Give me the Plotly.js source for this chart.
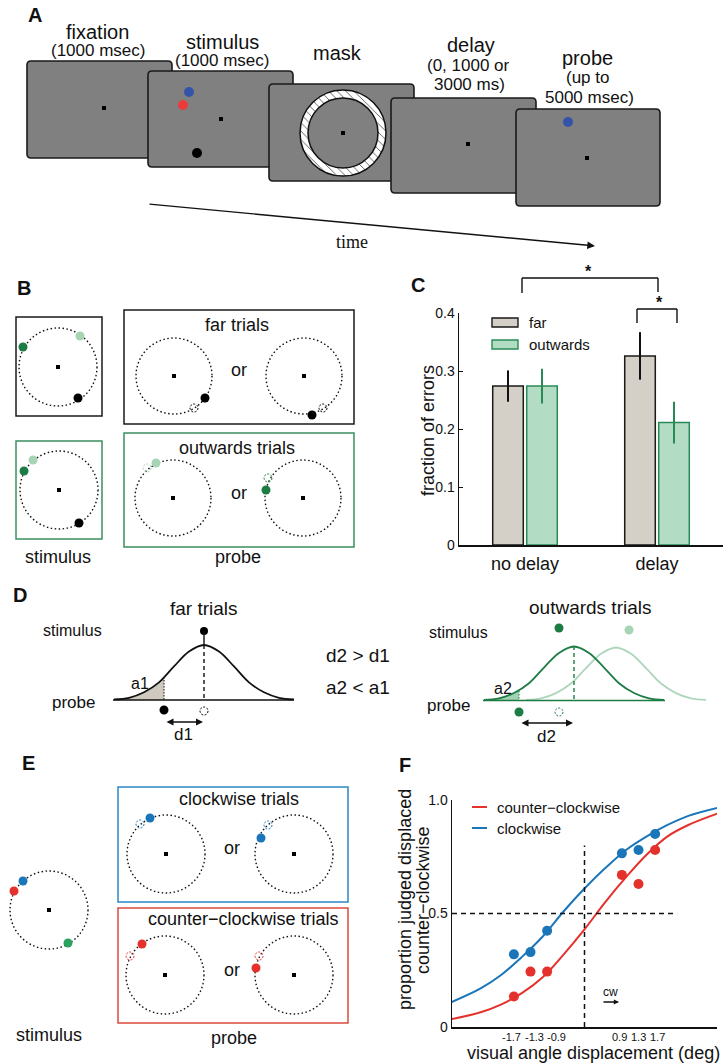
<!DOCTYPE html>
<html>
<head>
<meta charset="utf-8">
<script src="https://cdn.plot.ly/plotly-3.0.1.min.js"></script>
<style>html,body{margin:0;padding:0;background:#fff;}#chart{width:728px;height:1063px;}</style>
</head>
<body>
<div id="chart"></div>
<script>
// ---------- Panel C data ----------
const conditions = ['no delay', 'delay'];
const farFraction = [0.274, 0.326];
const farError = [0.027, 0.041];
const outwardsFraction = [0.274, 0.211];
const outwardsError = [0.030, 0.036];
const cTickVals = [0, 0.1, 0.2, 0.3, 0.4];
const cTickText = ['0', '0.1', '0.2', '0.3', '0.4'];

// ---------- Panel F data ----------
const displacement = [-1.7, -1.3, -0.9, 0.9, 1.3, 1.7];
const clockwisePts = [0.32, 0.33, 0.424, 0.765, 0.78, 0.85];
const counterPts = [0.134, 0.244, 0.244, 0.67, 0.63, 0.78];
const fitX = [-3.2, -2.5, -2, -1.5, -1, -0.5, 0, 0.5, 1, 1.5, 2, 2.5, 3.2];
const clockwiseFit = [0.11, 0.17, 0.23, 0.31, 0.40, 0.51, 0.61, 0.70, 0.78, 0.84, 0.89, 0.93, 0.965];
const counterFit = [0.035, 0.065, 0.10, 0.15, 0.22, 0.32, 0.43, 0.55, 0.66, 0.76, 0.84, 0.89, 0.94];
const fTickText = ['-1.7', '-1.3', '-0.9', '0.9', '1.3', '1.7'];
const fYTickVals = [0, 0.5, 1];
const fYTickText = ['0', '0.5', '1.0'];

// ---------- Panel D schematic tuning curve profile ----------
const bellOffsets = [-3, -2.5, -2, -1.5, -1, -0.5, 0, 0.5, 1, 1.5, 2, 2.5, 3];
const bellHeights = [0.01, 0.04, 0.14, 0.32, 0.61, 0.88, 1, 0.88, 0.61, 0.32, 0.14, 0.04, 0.01];

const FONT = 'Liberation Sans, Arial, Helvetica, sans-serif';
const INK = '#111';
const S = [], A = [], T = [];
const CV = {xref: 'x3', yref: 'y3'};

function circle(cx, cy, r, fill, lc, lw, dash, layer) {
  S.push(Object.assign({type: 'circle', x0: cx - r, x1: cx + r, y0: cy - r, y1: cy + r,
    fillcolor: fill || 'rgba(0,0,0,0)', layer: layer || 'above',
    line: {color: lc || fill || INK, width: lw == null ? 0 : lw, dash: dash || 'solid'}}, CV));
}
function dot(cx, cy, r, col) { circle(cx, cy, r, col, col, 0); }
function ghost(cx, cy, col) { circle(cx, cy, 4, null, col, 1, '2px,1.5px'); }
function sq(cx, cy) {
  S.push(Object.assign({type: 'rect', x0: cx - 2, x1: cx + 2, y0: cy - 2, y1: cy + 2, fillcolor: '#000', line: {width: 0}}, CV));
}
function box(x0, y0, x1, y1, col, w) {
  S.push(Object.assign({type: 'rect', x0, x1, y0, y1, fillcolor: 'rgba(0,0,0,0)', line: {color: col, width: w || 1.5}}, CV));
}
function seg(x0, y0, x1, y1, col, w, dash) {
  S.push(Object.assign({type: 'line', x0, x1, y0, y1, line: {color: col || INK, width: w || 1.5, dash: dash || 'solid'}}, CV));
}
function txt(x, y, s, size, o) {
  o = o || {};
  A.push(Object.assign({x, y, text: s, showarrow: false, font: {family: o.family || FONT, size, color: o.color || INK},
    xanchor: o.xa || 'center', yanchor: o.ya || 'middle', textangle: o.angle || 0}, CV));
}
function arrow(x0, y0, x1, y1, o) {
  o = o || {};
  A.push({xref: 'x3', yref: 'y3', axref: 'x3', ayref: 'y3', x: x1, y: y1, ax: x0, ay: y0, text: '', showarrow: true,
    arrowhead: o.head || 2, startarrowhead: o.head || 2, arrowsize: o.size || 1, startarrowsize: o.size || 1,
    arrowwidth: o.w || 1.5, arrowcolor: INK, arrowside: o.side || 'end', standoff: 0, startstandoff: 0});
}
function screen(x0, y0, x1, y1) {
  const r = 4;
  const p = `M${x0 + r},${y0} L${x1 - r},${y0} Q${x1},${y0} ${x1},${y0 + r} L${x1},${y1 - r} Q${x1},${y1} ${x1 - r},${y1} ` +
    `L${x0 + r},${y1} Q${x0},${y1} ${x0},${y1 - r} L${x0},${y0 + r} Q${x0},${y0} ${x0 + r},${y0} Z`;
  S.push(Object.assign({type: 'path', path: p, fillcolor: '#808080', line: {color: '#1a1a1a', width: 1.6}, layer: 'below'}, CV));
}
function dottedCircle(cx, cy, r) { circle(cx, cy, r, null, INK, 1.4, '1.5px,2.5px'); }

// ================= Panel A =================
txt(35, 15, '<b>A</b>', 20);
const BLUE_A = '#3553a8', RED_A = '#eb3b3b';
screen(27, 61, 172, 158); sq(104, 108);
screen(148, 71, 293, 167); dot(189, 92, 5, BLUE_A); dot(183, 105, 5, RED_A); dot(197, 153, 5, '#000'); sq(221, 119);
screen(269, 84, 414, 181);
// hatched mask ring (trace)
(function () {
  const cx = 343, cy = 133, R = 43, r = 35, N = 96, xs = [], ys = [];
  for (let i = 0; i <= N; i++) { const a = 2 * Math.PI * i / N; xs.push(cx + R * Math.cos(a)); ys.push(cy + R * Math.sin(a)); }
  for (let i = N; i >= 0; i--) { const a = 2 * Math.PI * i / N; xs.push(cx + r * Math.cos(a)); ys.push(cy + r * Math.sin(a)); }
  T.push({type: 'scatter', mode: 'lines', x: xs, y: ys, xaxis: 'x3', yaxis: 'y3', fill: 'toself', fillcolor: 'white',
    fillpattern: {shape: '\\', fgcolor: '#555', bgcolor: 'white', size: 6, solidity: 0.15},
    line: {width: 0, color: 'rgba(0,0,0,0)'}, hoverinfo: 'skip', showlegend: false});
  circle(cx, cy, R, null, '#111', 1.5);
  circle(cx, cy, r, null, '#111', 1.5);
})();
sq(343, 133);
screen(391, 98, 536, 193); sq(468, 144);
screen(516, 109, 660, 206); dot(568, 122, 5, BLUE_A); sq(587, 158);

txt(97, 32, 'fixation', 20); txt(98, 50, '(1000 msec)', 17);
txt(222, 42, 'stimulus', 20); txt(222, 60, '(1000 msec)', 17);
txt(337, 53, 'mask', 20);
txt(471, 45, 'delay', 20); txt(468, 65, '(0, 1000 or', 17); txt(469, 84, '3000 ms)', 17);
txt(587, 58, 'probe', 20); txt(587, 77, '(up to', 17); txt(589, 97, '5000 msec)', 17);
arrow(148, 204, 595, 246, {head: 2, size: 1.1, w: 1.4});
txt(352, 242, 'time', 18, {family: 'Liberation Serif, Times New Roman, serif'});

// ================= Panel B =================
txt(24, 288, '<b>B</b>', 20);
const DG = '#1c7c43', LG = '#a8d4b6', GBOX = '#3a8f5e';
box(16, 317, 102, 416, '#1a1a1a');
dottedCircle(58, 367, 39); sq(58, 367); dot(23, 347, 4.5, DG); dot(80, 336, 4.5, LG); dot(78, 398, 4.5, '#000');
box(124, 310, 354, 424, '#1a1a1a');
txt(237, 325, 'far trials', 18);
dottedCircle(174, 376, 38); sq(174, 376); ghost(194, 408, '#000'); dot(205, 398, 4.5, '#000');
txt(239, 370, 'or', 18);
dottedCircle(304, 376, 38); sq(304, 376); ghost(323, 408, '#000'); dot(312, 415, 4.5, '#000');
box(16, 441, 102, 539, GBOX);
dottedCircle(59, 490, 39); sq(59, 490); dot(24, 471, 4.5, DG); dot(33, 460, 4.5, LG); dot(79, 523, 4.5, '#000');
box(124, 433, 354, 547, GBOX);
txt(237, 448, 'outwards trials', 18);
dottedCircle(173, 498, 38); sq(173, 498); ghost(147, 468, LG); dot(156, 463, 4.5, LG);
txt(239, 493, 'or', 18);
dottedCircle(303, 498, 38); sq(303, 498); ghost(268, 478, DG); dot(266, 490, 4.5, DG);
txt(58, 557, 'stimulus', 18); txt(238, 557, 'probe', 18);

// ================= Panel C =================
txt(418, 285, '<b>C</b>', 20);
seg(522, 278, 658, 278, INK, 1.4); seg(522, 278, 522, 293, INK, 1.4); seg(658, 278, 658, 292, INK, 1.4);
txt(588, 271, '<b>*</b>', 16);
seg(637, 309, 677, 309, INK, 1.4); seg(637, 309, 637, 323, INK, 1.4); seg(677, 309, 677, 323, INK, 1.4);
txt(659, 302, '<b>*</b>', 16);
S.push(Object.assign({type: 'rect', x0: 492, x1: 518, y0: 318, y1: 327, fillcolor: '#d4cfc7', line: {color: '#1a1a1a', width: 1.4}}, CV));
S.push(Object.assign({type: 'rect', x0: 492, x1: 518, y0: 340, y1: 349, fillcolor: '#b2dcc3', line: {color: '#2a8a57', width: 1.4}}, CV));
txt(527, 322, 'far', 15, {xa: 'left'}); txt(527, 344, 'outwards', 15, {xa: 'left'});
txt(428, 431, 'fraction of errors', 18, {angle: -90});

T.push({type: 'bar', name: 'far', x: conditions, y: farFraction, xaxis: 'x', yaxis: 'y',
  marker: {color: '#d4cfc7', line: {color: '#1a1a1a', width: 1.5}},
  error_y: {type: 'data', array: farError, color: '#111', thickness: 2, width: 0}, showlegend: false, hoverinfo: 'skip'});
T.push({type: 'bar', name: 'outwards', x: conditions, y: outwardsFraction, xaxis: 'x', yaxis: 'y',
  marker: {color: '#b2dcc3', line: {color: '#2a8a57', width: 1.5}},
  error_y: {type: 'data', array: outwardsError, color: '#2a8a57', thickness: 2, width: 0}, showlegend: false, hoverinfo: 'skip'});

// ================= Panel D =================
txt(20, 595, '<b>D</b>', 20);
function bell(cx, base, H, sig, col, w) {
  T.push({type: 'scatter', mode: 'lines', xaxis: 'x3', yaxis: 'y3', x: bellOffsets.map(o => cx + o * sig),
    y: bellHeights.map(h => base - h * H), line: {color: col, width: w || 1.8, shape: 'spline'}, hoverinfo: 'skip', showlegend: false});
}
function shade(cx, base, H, sig, cutOff, cutH, col) {
  const idx = bellOffsets.filter(o => o < cutOff);
  const xs = idx.map(o => cx + o * sig).concat([cx + cutOff * sig]);
  const ys = idx.map(o => base - bellHeights[bellOffsets.indexOf(o)] * H).concat([base - cutH * H]);
  T.push({type: 'scatter', mode: 'lines', xaxis: 'x3', yaxis: 'y3', x: [xs[0], xs[xs.length - 1]], y: [base, base],
    line: {width: 0}, hoverinfo: 'skip', showlegend: false});
  T.push({type: 'scatter', mode: 'lines', xaxis: 'x3', yaxis: 'y3', x: xs, y: ys, fill: 'tonexty', fillcolor: col,
    line: {width: 0, shape: 'spline'}, hoverinfo: 'skip', showlegend: false});
}
// far trials
txt(204, 608, 'far trials', 19);
txt(72, 630, 'stimulus', 16);
shade(204, 700, 55, 30, -1.33, 0.42, '#cfc9bf');
bell(204, 700, 55, 30, '#111', 1.8);
seg(113, 700, 294, 700, '#111', 1.6);
dot(204, 631, 4, '#000'); seg(204, 631, 204, 645, '#111', 1.4);
seg(204, 645, 204, 700, '#111', 1.4, '4px,3px');
seg(164, 677, 164, 700, '#111', 1, '1.5px,1.5px');
dot(164, 710, 4.5, '#000'); ghost(204, 711, '#000');
arrow(165, 722, 203, 722, {side: 'end+start', head: 2, size: 1, w: 1.4});
txt(183, 734, 'd1', 17); txt(140, 683, 'a1', 16); txt(73, 702, 'probe', 17);
txt(358, 655, 'd2 > d1', 19); txt(358, 687, 'a2 < a1', 19);
// outwards trials
txt(590, 607, 'outwards trials', 19);
txt(458, 632, 'stimulus', 16);
dot(559, 628, 4.5, DG); dot(629, 630, 4.5, LG);
bell(616, 700.5, 53, 30, '#aed6bc', 1.8);
shade(574, 700.5, 54, 30, -1.83, 0.18, '#9fd3b2');
bell(574, 700.5, 54, 30, DG, 1.8);
seg(483, 700.5, 665, 700.5, DG, 1.6);
seg(574, 646, 574, 700, DG, 1.4, '4px,3px');
seg(519, 691, 519, 700, DG, 1, '1.5px,1.5px');
dot(519, 712, 4.5, DG); ghost(559, 712, DG);
arrow(520, 723, 573, 723, {side: 'end+start', head: 2, size: 1, w: 1.4});
txt(546, 736, 'd2', 17); txt(503, 688, 'a2', 16); txt(448, 705, 'probe', 17);

// ================= Panel E =================
txt(28, 763, '<b>E</b>', 20);
const BL = '#1b76b9', RD = '#e5312b', GN = '#2ca25f';
dottedCircle(49, 910, 39); sq(49, 910); dot(23, 881, 4.5, BL); dot(14, 891, 4.5, RD); dot(68, 943, 4.5, GN);
txt(49, 1035, 'stimulus', 18);
box(118, 787, 348, 902, '#2b87c5');
txt(239, 799, 'clockwise trials', 18);
dottedCircle(166, 854, 39); sq(166, 854); ghost(140, 824, BL); dot(150, 818, 4.5, BL);
txt(232, 848, 'or', 18);
dottedCircle(294, 854, 39); sq(294, 854); ghost(268, 825, BL); dot(261, 838, 4.5, BL);
box(118, 908, 348, 1023, '#da4a3e');
txt(243, 919, 'counter\u2212clockwise trials', 18);
dottedCircle(165, 975, 39); sq(165, 975); ghost(130, 956, RD); dot(142, 944, 4.5, RD);
txt(232, 970, 'or', 18);
dottedCircle(294, 975, 39); sq(294, 975); ghost(259, 956, RD); dot(256, 968, 4.5, RD);
txt(234, 1038, 'probe', 18);

// ================= Panel F =================
txt(405, 765, '<b>F</b>', 20);
txt(405, 900, 'proportion judged displaced', 18, {angle: -90});
txt(423, 900, 'counter\u2212clockwise', 18, {angle: -90});
txt(593, 1053, 'visual angle displacement (deg)', 18);
seg(472, 807, 487, 807, RD, 2); txt(495, 807, 'counter\u2212clockwise', 15, {xa: 'left'});
seg(472, 828, 487, 828, BL, 2); txt(495, 828, 'clockwise', 15, {xa: 'left'});
txt(610, 992, 'cw', 12);
arrow(602, 1002, 619, 1002, {head: 2, size: 0.8, w: 1.3});
// x tick labels of F, placed at the tick values (small nudges so the crowded labels do not collide)
const fTickNudge = [-2, 3.5, 9, -2, 0, 2];
displacement.forEach((v, i) => {
  A.push({xref: 'x2', yref: 'y3', x: v, y: 1037, xshift: fTickNudge[i], text: fTickText[i], showarrow: false,
    font: {family: FONT, size: 11, color: INK}, xanchor: 'center', yanchor: 'middle', borderpad: 0});
});

S.push({type: 'line', xref: 'x2', yref: 'y2', x0: 0, x1: 0, y0: 0, y1: 0.8, line: {color: '#111', width: 1.5, dash: '5px,4px'}});
S.push({type: 'line', xref: 'x2', yref: 'y2', x0: -3.19, x1: 2.23, y0: 0.5, y1: 0.5, line: {color: '#111', width: 1.5, dash: '5px,4px'}});

T.push({type: 'scatter', mode: 'lines', x: fitX, y: counterFit, xaxis: 'x2', yaxis: 'y2', line: {color: RD, width: 2, shape: 'spline'}, showlegend: false, hoverinfo: 'skip'});
T.push({type: 'scatter', mode: 'lines', x: fitX, y: clockwiseFit, xaxis: 'x2', yaxis: 'y2', line: {color: BL, width: 2, shape: 'spline'}, showlegend: false, hoverinfo: 'skip'});
T.push({type: 'scatter', mode: 'markers', x: displacement, y: counterPts, xaxis: 'x2', yaxis: 'y2', marker: {color: RD, size: 10}, showlegend: false, hoverinfo: 'skip', cliponaxis: false});
T.push({type: 'scatter', mode: 'markers', x: displacement, y: clockwisePts, xaxis: 'x2', yaxis: 'y2', marker: {color: BL, size: 10}, showlegend: false, hoverinfo: 'skip', cliponaxis: false});

// canvas anchor trace
T.push({type: 'scatter', mode: 'markers', x: [0], y: [0], xaxis: 'x3', yaxis: 'y3', marker: {size: 0.1, color: 'rgba(0,0,0,0)'}, showlegend: false, hoverinfo: 'skip'});

const W = 728, H = 1063;
const layout = {
  width: W, height: H, margin: {l: 0, r: 0, t: 0, b: 0},
  paper_bgcolor: '#fff', plot_bgcolor: 'rgba(0,0,0,0)', showlegend: false,
  barmode: 'group', bargap: 0.485, bargroupgap: 0.1,
  font: {family: FONT, color: INK},
  xaxis: {domain: [459 / W, 723 / W], anchor: 'y', type: 'category', showline: true, linecolor: '#111', linewidth: 1.5,
    ticks: '', showgrid: false, zeroline: false, tickfont: {size: 18, color: INK}, ticklabelstandoff: 2, fixedrange: true},
  yaxis: {domain: [1 - 545 / H, 1 - 313 / H], anchor: 'x', range: [0, 0.4], showline: true, linecolor: '#111', linewidth: 1.5,
    ticks: 'inside', ticklen: 4, tickcolor: '#111', tickvals: cTickVals, ticktext: cTickText, showgrid: false, zeroline: false,
    tickfont: {size: 14, color: INK}, fixedrange: true},
  xaxis2: {domain: [452 / W, 717 / W], anchor: 'y2', range: [-3.19, 3.19], showline: true, linecolor: '#111', linewidth: 1.5,
    ticks: '', tickvals: displacement, showticklabels: false, showgrid: false, zeroline: false, fixedrange: true},
  yaxis2: {domain: [1 - 1027 / H, 1 - 800 / H], anchor: 'x2', range: [0, 1], showline: true, linecolor: '#111', linewidth: 1.5,
    ticks: 'inside', ticklen: 4, tickcolor: '#111', tickvals: fYTickVals, ticktext: fYTickText, showgrid: false, zeroline: false,
    tickfont: {size: 14, color: INK}, fixedrange: true},
  xaxis3: {domain: [0, 1], anchor: 'y3', range: [0, W], visible: false, fixedrange: true},
  yaxis3: {domain: [0, 1], anchor: 'x3', range: [H, 0], visible: false, fixedrange: true},
  shapes: S, annotations: A
};
Plotly.newPlot('chart', T, layout, {staticPlot: true, displayModeBar: false});
</script>
</body>
</html>
